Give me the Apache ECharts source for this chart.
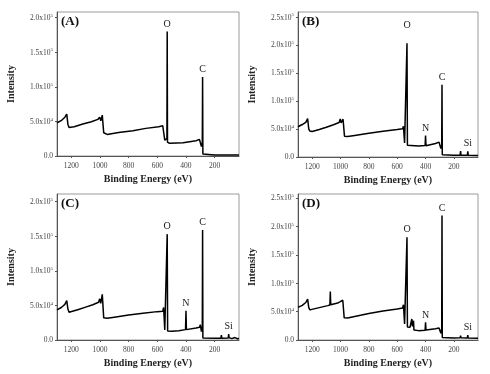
<!DOCTYPE html>
<html>
<head>
<meta charset="utf-8">
<script src="https://cdn.jsdelivr.net/npm/echarts@6/dist/echarts.min.js"></script>
<style>html,body{margin:0;padding:0;background:#fff;}#c{width:490px;height:374px;}</style>
</head>
<body>
<div id="c"></div>
<script>
// ---- data: [binding energy (eV), intensity (counts)] ----
const spectrumA = [
  [1300,48000],[1271,51000],[1245,56000],[1232,60600],[1224,46000],[1216,41300],[1180,42300],
  [1120,46100],[1060,49500],[1015,52900],[1002,55800],[994,51000],[984,59100],[974,33600],
  [950,31200],[870,34100],[770,36500],[680,39900],[590,42300],[562,43700],[556,46100],
  [548,23000],[536,20700],[533,25000],[531,180000],[529,20000],[515,18300],[420,19200],
  [330,22100],[306,24000],[299,25500],[292,13500],[286,20000],[284,114000],[282,3000],
  [270,1400],[200,1400],[120,1500],[30,1400]
];
const spectrumB = [
  [1300,54000],[1270,58000],[1245,62000],[1232,68400],[1224,50000],[1216,46400],[1200,45500],
  [1150,49000],[1100,53000],[1050,57500],[1010,61500],[1002,68000],[996,61000],[988,63000],
  [982,67500],[972,37000],[950,36500],[900,38500],[800,42500],[700,46000],[600,49000],
  [562,50500],[556,55000],[548,25000],[535,23000],[531,203000],[528,21000],[515,19600],
  [450,19800],[403,20500],[400,38500],[397,20000],[330,24000],[305,26500],[300,28500],
  [292,15000],[286,22000],[284,129000],[282,4000],[270,3000],[200,3000],[156,3200],
  [153,10700],[150,3200],[105,3000],[102,10100],[99,3000],[30,2800]
];
const spectrumC = [
  [1300,43400],[1270,47000],[1245,51500],[1232,57000],[1224,45000],[1216,40000],[1150,44000],
  [1100,47500],[1050,51000],[1010,54500],[1002,59500],[995,53000],[984,66000],[974,32000],
  [950,31300],[900,33000],[800,36000],[700,38500],[600,41000],[562,41500],[556,47000],
  [548,14500],[535,13500],[531,153000],[528,13000],[500,12800],[450,13500],[403,15000],
  [400,42400],[397,15000],[330,17500],[305,18500],[300,22200],[292,12000],[286,20000],
  [284,159000],[282,3000],[270,2400],[200,2400],[156,2600],[153,7200],[150,2600],[105,2800],
  [102,8700],[99,3500],[80,2000],[60,3500],[40,1800],[30,2000]
];
const spectrumD = [
  [1300,57500],[1270,61000],[1245,66000],[1232,72000],[1224,57000],[1216,53000],[1150,57000],
  [1090,60500],[1075,61500],[1072,85500],[1069,62000],[1020,65000],[1005,67000],[1000,70000],
  [994,64000],[984,70000],[974,39000],[950,38700],[900,41500],[800,46500],[700,51000],
  [600,54500],[562,56300],[556,62000],[548,28200],[535,26000],[531,181000],[528,23000],
  [510,22300],[500,23000],[497,37000],[493,24000],[487,22000],[485,34000],[482,17500],
  [450,16500],[403,17000],[400,31000],[397,17500],[330,20000],[305,21000],[300,24000],
  [292,12000],[286,20000],[284,219000],[282,4500],[270,3500],[200,3500],[156,3800],
  [153,7500],[150,3800],[105,3500],[102,8500],[99,3500],[30,3000]
];
// peak annotations: [label, energy, intensity]
const peaksA = [['O',531,180000],['C',284,114000]];
const peaksB = [['O',531,203000],['N',400,38500],['C',284,129000],['Si',102,10100]];
const peaksC = [['O',531,153000],['N',400,42400],['C',284,159000],['Si',102,8700]];
const peaksD = [['O',531,181000],['N',400,31000],['C',284,219000],['Si',102,8500]];
const panelLetters = ['(A)','(B)','(C)','(D)'];
const xTicks = [200,400,600,800,1000,1200];
const yTicksA = [0,50000,100000,150000,200000];
const yTicksB = [0,50000,100000,150000,200000,250000];
const xTitle = 'Binding Energy (eV)';
const yTitle = 'Intensity';

const FONT = "'Liberation Serif','Times New Roman',serif";
const grids = [
  {left:57, top:12, width:182, height:144},
  {left:298, top:12, width:180, height:145},
  {left:57, top:194, width:182, height:146},
  {left:298, top:194, width:180, height:146}
];
const yMax = [208000, 259000, 211000, 257000];
const yTicks = [yTicksA, yTicksB, yTicksA, yTicksB];
const spectra = [spectrumA, spectrumB, spectrumC, spectrumD];
const peaks = [peaksA, peaksB, peaksC, peaksD];
// label gap (px) above each peak; the O label of panel B sits higher
const labelGap = [[2,2],[12,2,2,2],[2,2,2,2],[2,2,2,2]];

function sci(v){
  if (v === 0) return '{m|0.0}';
  const e = Math.floor(Math.log10(v) + 1e-9);
  const m = (v / Math.pow(10, e)).toFixed(1);
  return '{m|' + m + 'x10}{e|' + e + '}';
}

const option = {
  animation: false,
  backgroundColor: '#fff',
  grid: grids.map(g => Object.assign({show:true, borderColor:'#9a9a9a', borderWidth:1, containLabel:false}, g)),
  xAxis: grids.map((g,i) => ({
    type:'value', gridIndex:i, inverse:true, min:30, max:1300,
    name: xTitle, nameLocation:'middle', nameGap:18,
    nameTextStyle:{fontFamily:FONT, fontWeight:'bold', fontSize:10, color:'#222'},
    axisLine:{show:true, onZero:false, lineStyle:{color:'#555', width:1}},
    axisTick:{show:true, inside:false, length:2, customValues:xTicks, lineStyle:{color:'#555'}},
    axisLabel:{customValues:xTicks, margin:6, fontFamily:FONT, fontSize:7.5, color:'#444',
      formatter: v => String(v)},
    splitLine:{show:false}
  })),
  yAxis: grids.map((g,i) => ({
    type:'value', gridIndex:i, min:0, max:yMax[i],
    name: yTitle, nameLocation:'middle', nameGap:41, nameRotate:90,
    nameTextStyle:{fontFamily:FONT, fontWeight:'bold', fontSize:10, color:'#222'},
    axisLine:{show:true, onZero:false, lineStyle:{color:'#555', width:1}},
    axisTick:{show:true, inside:false, length:2, customValues:yTicks[i], lineStyle:{color:'#555'}},
    axisLabel:{customValues:yTicks[i], margin:4, formatter:sci,
      rich:{
        m:{fontFamily:FONT, fontSize:7.5, color:'#444', verticalAlign:'bottom'},
        e:{fontFamily:FONT, fontSize:5, color:'#444', verticalAlign:'bottom', padding:[0,0,4,0]}
      }},
    splitLine:{show:false}
  })),
  series: spectra.map((d,i) => ({
    type:'line', xAxisIndex:i, yAxisIndex:i, data:d, showSymbol:false, symbol:'none',
    lineStyle:{color:'#000', width:1.5}, silent:true,
    markPoint:{
      symbol:'rect', symbolSize:1, itemStyle:{color:'rgba(0,0,0,0)'},
      label:{show:true, position:'top', distance:2, formatter:'{b}',
        fontFamily:FONT, fontSize:10, color:'#222'},
      data: peaks[i].map((p,k) => ({name:p[0], coord:[p[1], p[2]], label:{distance:labelGap[i][k]}}))
    }
  })),
  graphic: grids.map((g,i) => ({
    type:'text', left:g.left + 4, top:g.top + 3,
    style:{text:panelLetters[i], font:"bold 13px " + FONT, fill:'#111'}
  }))
};
const chart = echarts.init(document.getElementById('c'), null, {renderer:'canvas'});
chart.setOption(option);
</script>
</body>
</html>
